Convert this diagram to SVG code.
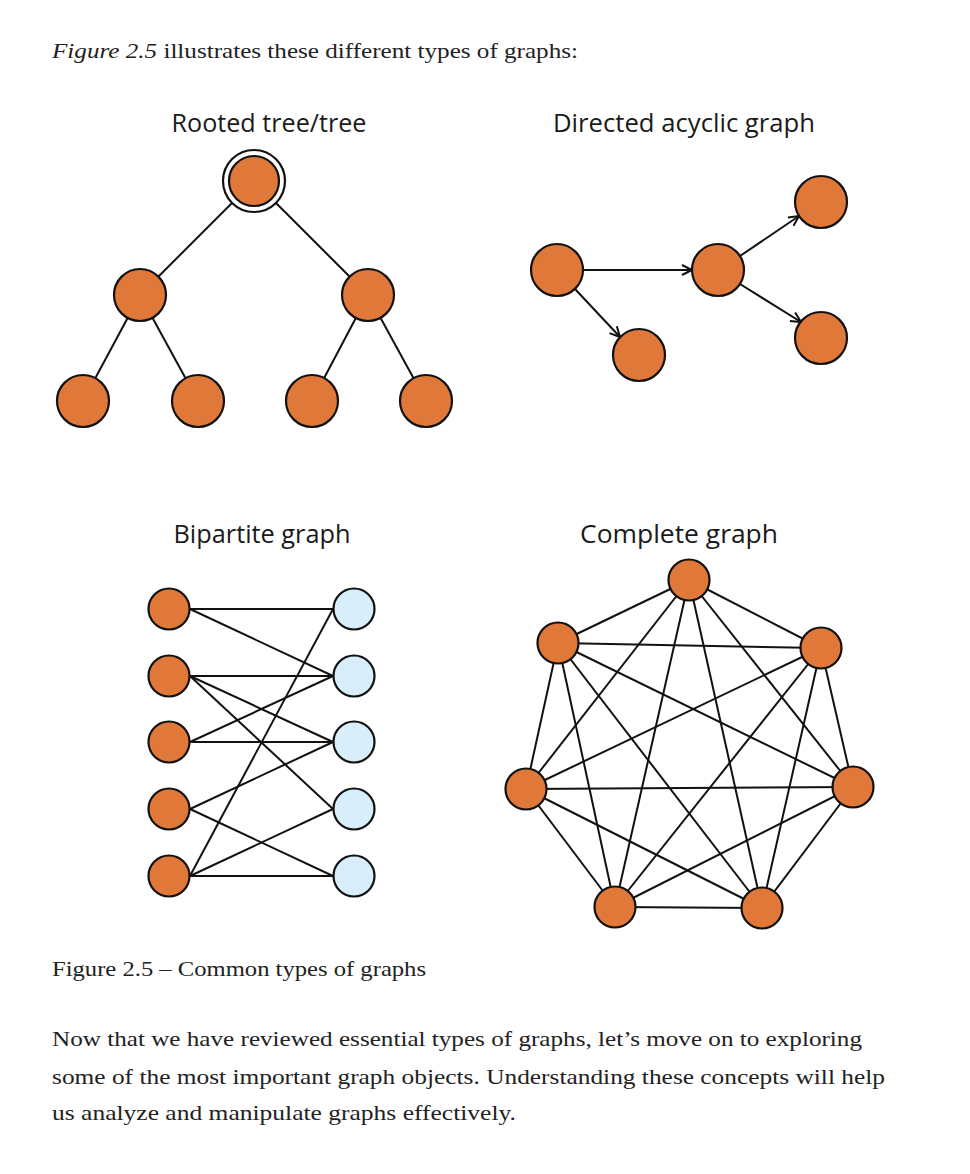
<svg xmlns="http://www.w3.org/2000/svg" width="970" height="1174" viewBox="0 0 970 1174">
<style>
.bg{fill:#fff}
.n{fill:#e0783a;stroke:#111;stroke-width:2.2}
.nb{fill:#d8effb;stroke:#111;stroke-width:2.2}
.e{stroke:#111;stroke-width:2;fill:none}
.t{font-family:"Open Sans","Liberation Sans",sans-serif;font-size:25px;fill:#1a1a1a;text-anchor:middle}
.p{font-family:"Liberation Serif","DejaVu Serif",serif;font-size:21px;fill:#222}
</style>
<defs>
<marker id="arr" markerUnits="userSpaceOnUse" markerWidth="14" markerHeight="14" refX="11" refY="6" orient="auto">
<path d="M1,1 L11,6 L1,11" fill="none" stroke="#111" stroke-width="2"/>
</marker>
</defs>
<rect class="bg" x="0" y="0" width="970" height="1174"/>

<text class="p" x="52" y="58" textLength="526" lengthAdjust="spacingAndGlyphs"><tspan font-style="italic">Figure 2.5</tspan> illustrates these different types of graphs:</text>

<!-- Titles -->
<text class="t" x="269" y="132" textLength="195" lengthAdjust="spacingAndGlyphs">Rooted tree/tree</text>
<text class="t" x="684" y="132" textLength="262" lengthAdjust="spacingAndGlyphs">Directed acyclic graph</text>
<text class="t" x="262" y="543" textLength="177" lengthAdjust="spacingAndGlyphs">Bipartite graph</text>
<text class="t" x="679" y="543" textLength="198" lengthAdjust="spacingAndGlyphs">Complete graph</text>

<g id="connectors">
<!-- tree -->
<line class="e" x1="254" y1="181" x2="140" y2="295"/>
<line class="e" x1="254" y1="181" x2="368" y2="295"/>
<line class="e" x1="140" y1="295" x2="83" y2="401"/>
<line class="e" x1="140" y1="295" x2="198" y2="401"/>
<line class="e" x1="368" y1="295" x2="312" y2="401"/>
<line class="e" x1="368" y1="295" x2="426" y2="401"/>
<!-- DAG -->
<line class="e" x1="583" y1="270" x2="692" y2="270" marker-end="url(#arr)"/>
<line class="e" x1="575" y1="289" x2="620" y2="337" marker-end="url(#arr)"/>
<line class="e" x1="740" y1="256" x2="799" y2="216" marker-end="url(#arr)"/>
<line class="e" x1="740" y1="284" x2="801" y2="322" marker-end="url(#arr)"/>
<!-- bipartite -->
<line class="e" x1="190" y1="609" x2="333" y2="609"/>
<line class="e" x1="190" y1="609" x2="333" y2="676"/>
<line class="e" x1="190" y1="676" x2="333" y2="676"/>
<line class="e" x1="190" y1="676" x2="333" y2="742"/>
<line class="e" x1="190" y1="676" x2="333" y2="809"/>
<line class="e" x1="190" y1="742" x2="333" y2="676"/>
<line class="e" x1="190" y1="742" x2="333" y2="742"/>
<line class="e" x1="190" y1="809" x2="333" y2="742"/>
<line class="e" x1="190" y1="809" x2="333" y2="876"/>
<line class="e" x1="190" y1="876" x2="333" y2="609"/>
<line class="e" x1="190" y1="876" x2="333" y2="809"/>
<line class="e" x1="190" y1="876" x2="333" y2="876"/>
<!-- complete -->
<line class="e" x1="689" y1="580" x2="558" y2="643"/>
<line class="e" x1="689" y1="580" x2="821" y2="648"/>
<line class="e" x1="689" y1="580" x2="526" y2="789"/>
<line class="e" x1="689" y1="580" x2="853" y2="787"/>
<line class="e" x1="689" y1="580" x2="615" y2="907"/>
<line class="e" x1="689" y1="580" x2="762" y2="908"/>
<line class="e" x1="558" y1="643" x2="821" y2="648"/>
<line class="e" x1="558" y1="643" x2="526" y2="789"/>
<line class="e" x1="558" y1="643" x2="853" y2="787"/>
<line class="e" x1="558" y1="643" x2="615" y2="907"/>
<line class="e" x1="558" y1="643" x2="762" y2="908"/>
<line class="e" x1="821" y1="648" x2="526" y2="789"/>
<line class="e" x1="821" y1="648" x2="853" y2="787"/>
<line class="e" x1="821" y1="648" x2="615" y2="907"/>
<line class="e" x1="821" y1="648" x2="762" y2="908"/>
<line class="e" x1="526" y1="789" x2="853" y2="787"/>
<line class="e" x1="526" y1="789" x2="615" y2="907"/>
<line class="e" x1="526" y1="789" x2="762" y2="908"/>
<line class="e" x1="853" y1="787" x2="615" y2="907"/>
<line class="e" x1="853" y1="787" x2="762" y2="908"/>
<line class="e" x1="615" y1="907" x2="762" y2="908"/>
</g>

<!-- tree nodes -->
<g id="tree-root"><circle cx="254" cy="181" r="31" fill="#fff" stroke="#111" stroke-width="2.2"/><circle class="n" cx="254" cy="181" r="25"/></g>
<g id="tree-l"><circle class="n" cx="140" cy="295" r="26"/></g>
<g id="tree-r"><circle class="n" cx="368" cy="295" r="26"/></g>
<g id="tree-ll"><circle class="n" cx="83" cy="401" r="26"/></g>
<g id="tree-lr"><circle class="n" cx="198" cy="401" r="26"/></g>
<g id="tree-rl"><circle class="n" cx="312" cy="401" r="26"/></g>
<g id="tree-rr"><circle class="n" cx="426" cy="401" r="26"/></g>

<!-- DAG nodes -->
<g id="dag-a"><circle class="n" cx="557" cy="270" r="26"/></g>
<g id="dag-b"><circle class="n" cx="718" cy="270" r="26"/></g>
<g id="dag-c"><circle class="n" cx="639" cy="355" r="26"/></g>
<g id="dag-d"><circle class="n" cx="821" cy="202" r="26"/></g>
<g id="dag-e"><circle class="n" cx="821" cy="338" r="26"/></g>

<!-- bipartite nodes -->
<g id="bl1"><circle class="n" cx="169" cy="609" r="20.5"/></g>
<g id="bl2"><circle class="n" cx="169" cy="676" r="20.5"/></g>
<g id="bl3"><circle class="n" cx="169" cy="742" r="20.5"/></g>
<g id="bl4"><circle class="n" cx="169" cy="809" r="20.5"/></g>
<g id="bl5"><circle class="n" cx="169" cy="876" r="20.5"/></g>
<g id="br1"><circle class="nb" cx="354" cy="609" r="20.5"/></g>
<g id="br2"><circle class="nb" cx="354" cy="676" r="20.5"/></g>
<g id="br3"><circle class="nb" cx="354" cy="742" r="20.5"/></g>
<g id="br4"><circle class="nb" cx="354" cy="809" r="20.5"/></g>
<g id="br5"><circle class="nb" cx="354" cy="876" r="20.5"/></g>

<!-- complete nodes -->
<g id="k1"><circle class="n" cx="689" cy="580" r="20.5"/></g>
<g id="k2"><circle class="n" cx="558" cy="643" r="20.5"/></g>
<g id="k3"><circle class="n" cx="821" cy="648" r="20.5"/></g>
<g id="k4"><circle class="n" cx="526" cy="789" r="20.5"/></g>
<g id="k5"><circle class="n" cx="853" cy="787" r="20.5"/></g>
<g id="k6"><circle class="n" cx="615" cy="907" r="20.5"/></g>
<g id="k7"><circle class="n" cx="762" cy="908" r="20.5"/></g>

<text class="p" x="52" y="976" textLength="374" lengthAdjust="spacingAndGlyphs">Figure 2.5 – Common types of graphs</text>
<text class="p" x="52" y="1046" textLength="810" lengthAdjust="spacingAndGlyphs">Now that we have reviewed essential types of graphs, let’s move on to exploring</text>
<text class="p" x="52" y="1084" textLength="833" lengthAdjust="spacingAndGlyphs">some of the most important graph objects. Understanding these concepts will help</text>
<text class="p" x="52" y="1120" textLength="464" lengthAdjust="spacingAndGlyphs">us analyze and manipulate graphs effectively.</text>
</svg>
